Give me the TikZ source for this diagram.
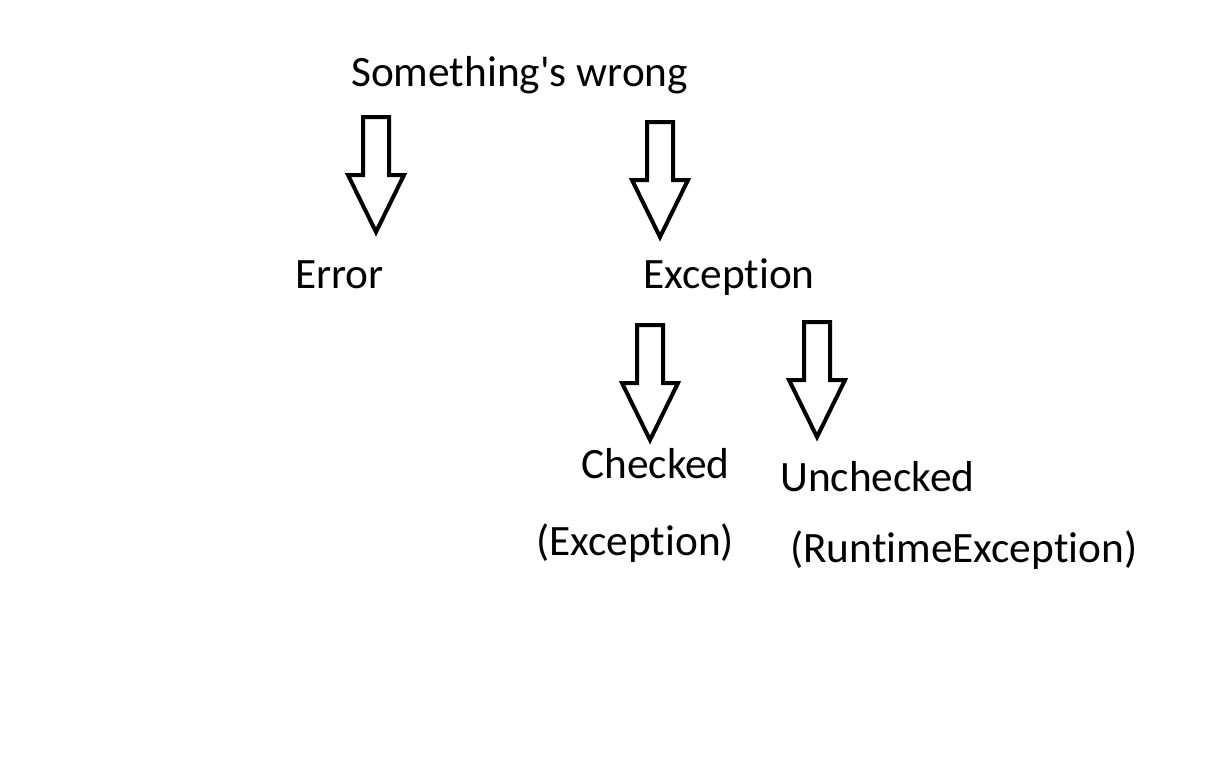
\documentclass[tikz,border=0pt]{standalone}
\usepackage{fontspec}
\setmainfont{Carlito}[Ligatures={TeXOff,CommonOff}]
\begin{document}
\begin{tikzpicture}[x=0.75pt,y=-0.75pt,
  lbl/.style={anchor=base west,inner sep=0pt,font=\fontsize{32.5}{39}\selectfont},
  arrowline/.style={draw=black,line width=3pt,line join=miter,fill=white},
  blockarrow/.pic={\path[arrowline] (-13,0) -- (13,0) -- (13,58) -- (28,58) -- (0,115) -- (-28,58) -- (-13,58) -- cycle;}]
\useasboundingbox[fill=white] (0,0) rectangle (1212,757);
\node[lbl] (root) at (351,86) {Something's wrong};
\node[lbl] (err) at (295,288) {Error};
\node[lbl] (exc) at (643,288) {Exception};
\node[lbl] (chk) at (581,478) {Checked};
\node[lbl] (chkx) at (536,555) {(Exception)};
\node[lbl] (unc) at (780,491) {Unchecked};
\node[lbl] (uncx) at (790,562) {(RuntimeException)};
\pic at (376,117) {blockarrow};
\pic at (660,122) {blockarrow};
\pic at (650,325) {blockarrow};
\pic at (817,322) {blockarrow};
\end{tikzpicture}
\end{document}
